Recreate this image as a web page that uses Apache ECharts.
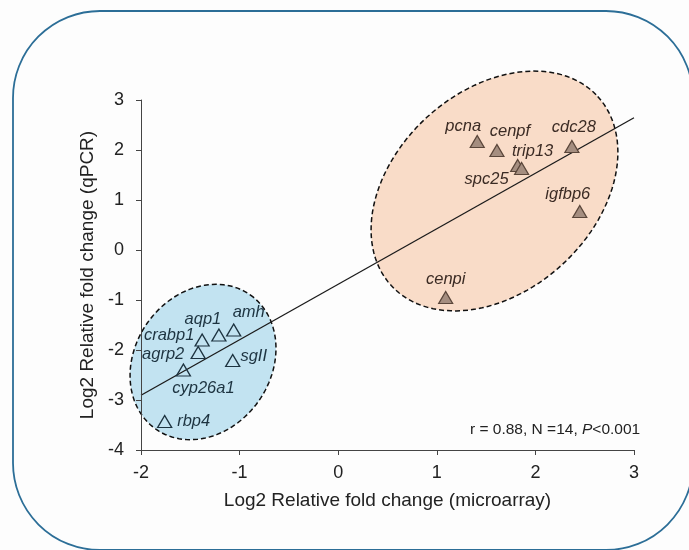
<!DOCTYPE html>
<html>
<head>
<meta charset="utf-8">
<script src="https://cdn.jsdelivr.net/npm/echarts@6/dist/echarts.min.js"></script>
<style>
  html, body { margin: 0; padding: 0; background: #fdfdfd; }
  #chart { width: 689px; height: 550px; }
</style>
</head>
<body>
<div id="chart"></div>
<script>
// genes up-regulated (upper right cluster)
var upGenes = ['pcna', 'cenpf', 'trip13', 'spc25', 'cdc28', 'igfbp6', 'cenpi'];
var upMicro = [1.41, 1.61, 1.82, 1.86, 2.37, 2.45, 1.09];
var upQpcr  = [2.17, 1.99, 1.69, 1.63, 2.07, 0.77, -0.95];

// genes down-regulated (lower left cluster)
var downGenes = ['crabp1', 'aqp1', 'amh', 'agrp2', 'sgII', 'cyp26a1', 'rbp4'];
var downMicro = [-1.38, -1.21, -1.06, -1.42, -1.07, -1.57, -1.76];
var downQpcr  = [-1.80, -1.70, -1.60, -2.05, -2.21, -2.40, -3.43];

// fitted line end points
var fitLine = [[-2, -2.905], [3, 2.645]];

// axis ticks
var xTicks = [-2, -1, 0, 1, 2, 3];
var yTicks = [-4, -3, -2, -1, 0, 1, 2, 3];

// cluster outlines: centre + two conjugate semi-axis vectors (data units)
var upCluster   = [1.585, 1.18, 1.047, 1.892, 0.686, -1.474];
var downCluster = [-1.371, -2.24, 0.478, 1.344, 0.565, -0.78];

// label offsets (px, from marker centre)
var upLabelOff = {
  pcna: [-14, -15], cenpf: [13, -19], trip13: [15, -14], spc25: [-35, 11],
  cdc28: [2, -19], igfbp6: [-12, -17], cenpi: [0, -18]
};
var downLabelOff = {
  crabp1: [-33, -5], aqp1: [-16, -16], amh: [15, -18], agrp2: [-35, 2],
  sgII: [21, -4], cyp26a1: [20, 18], rbp4: [29, 0]
};

var FONT = '"Liberation Sans", Arial, sans-serif';

function makePoints(names, xs, ys, offs, color) {
  return names.map(function (n, i) {
    return {
      name: n,
      value: [xs[i], ys[i]],
      label: { offset: offs[n], color: color }
    };
  });
}

function ellipseItem(fill) {
  return function (params, api) {
    var cx = api.value(0), cy = api.value(1);
    var ux = api.value(2), uy = api.value(3);
    var vx = api.value(4), vy = api.value(5);
    var pts = [];
    for (var k = 0; k < 120; k++) {
      var t = k / 120 * Math.PI * 2;
      pts.push(api.coord([cx + ux * Math.cos(t) + vx * Math.sin(t),
                          cy + uy * Math.cos(t) + vy * Math.sin(t)]));
    }
    return {
      type: 'polygon',
      shape: { points: pts },
      style: { fill: fill, stroke: '#111', lineWidth: 1.5, lineDash: [5, 3] }
    };
  };
}

var chart = echarts.init(document.getElementById('chart'));

var option = {
  backgroundColor: '#fdfdfd',
  animation: false,
  grid: { left: 141, right: 55, top: 100, bottom: 100 },
  graphic: [
    {
      type: 'rect', z: -10, silent: true,
      shape: { x: 13, y: 11, width: 680, height: 539, r: 87 },
      style: { fill: 'none', stroke: '#2c6e97', lineWidth: 1.8 }
    },
    {
      type: 'text', left: 470, top: 422, z: 10,
      style: {
        text: 'r = 0.88, N =14, {i|P}<0.001',
        font: '15.5px ' + FONT, fill: '#222',
        rich: { i: { fontStyle: 'italic', fontSize: 15.5, fontFamily: FONT, fill: '#222' } }
      }
    }
  ],
  xAxis: {
    type: 'value', min: xTicks[0], max: xTicks[xTicks.length - 1], interval: 1,
    z: 5,
    name: 'Log2 Relative fold change (microarray)',
    nameLocation: 'middle', nameGap: 41,
    nameTextStyle: { fontSize: 19, color: '#222', fontFamily: FONT },
    axisLine: { show: true, onZero: false, lineStyle: { color: '#444', width: 1 } },
    axisTick: { show: true, length: 5, lineStyle: { color: '#444' } },
    axisLabel: { fontSize: 18, color: '#222', fontFamily: FONT, margin: 14 },
    splitLine: { show: false }
  },
  yAxis: {
    type: 'value', min: yTicks[0], max: yTicks[yTicks.length - 1], interval: 1,
    z: 5,
    name: 'Log2 Relative fold change (qPCR)',
    nameLocation: 'middle', nameGap: 41,
    nameTextStyle: { fontSize: 19, color: '#222', fontFamily: FONT },
    axisLine: { show: true, onZero: false, lineStyle: { color: '#444', width: 1 } },
    axisTick: { show: true, length: 5, lineStyle: { color: '#444' } },
    axisLabel: { fontSize: 18, color: '#222', fontFamily: FONT, margin: 17 },
    splitLine: { show: false }
  },
  series: [
    {
      type: 'custom', z: 1, clip: false, silent: true,
      data: [upCluster],
      renderItem: ellipseItem('#f9dcc8')
    },
    {
      type: 'custom', z: 1, clip: false, silent: true,
      data: [downCluster],
      renderItem: ellipseItem('#c2e3f1')
    },
    {
      type: 'line', z: 3, data: fitLine, symbol: 'none', silent: true,
      lineStyle: { color: '#1a1a1a', width: 1.3 }
    },
    {
      type: 'scatter', z: 4, symbol: 'triangle', symbolSize: [14, 12],
      data: makePoints(upGenes, upMicro, upQpcr, upLabelOff, '#3b2b24'),
      itemStyle: { color: '#a58e80', borderColor: '#5a463a', borderWidth: 1.2, opacity: 1 },
      label: {
        show: true, position: 'inside', formatter: '{b}',
        fontSize: 16.5, fontStyle: 'italic', fontFamily: FONT
      }
    },
    {
      type: 'scatter', z: 4, symbol: 'triangle', symbolSize: [14, 12],
      data: makePoints(downGenes, downMicro, downQpcr, downLabelOff, '#1d3340'),
      itemStyle: { color: 'rgba(0,0,0,0)', borderColor: '#1d3340', borderWidth: 1.3, opacity: 1 },
      label: {
        show: true, position: 'inside', formatter: '{b}',
        fontSize: 16.5, fontStyle: 'italic', fontFamily: FONT
      }
    }
  ]
};

chart.setOption(option);
</script>
</body>
</html>
